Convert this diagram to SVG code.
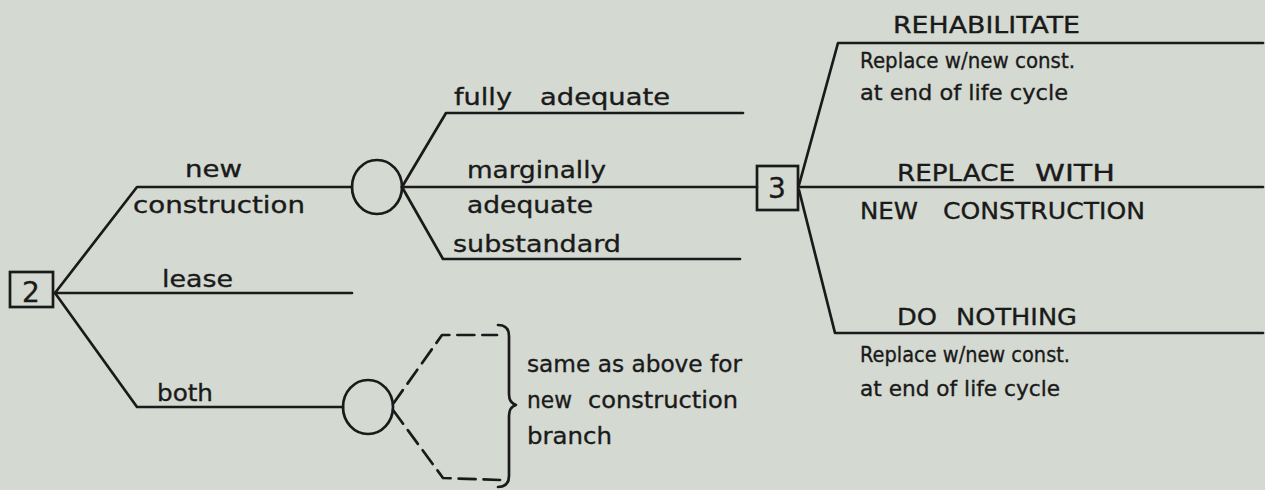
<svg xmlns="http://www.w3.org/2000/svg" width="1265" height="490" viewBox="0 0 1265 490">
  <style>
    .bg { fill: #d4d9d1; }
    .ln { fill: none; stroke: #1a1a1a; stroke-width: 2.7; stroke-linejoin: round; stroke-linecap: round; }
    .dash { stroke-dasharray: 17 8; }
    .box { fill: none; stroke: #1a1a1a; stroke-width: 2.7; }
    .chance { fill: none; stroke: #1a1a1a; stroke-width: 2.7; }
    text { font-family: "DejaVu Sans", "Liberation Sans", sans-serif; fill: #1a1a1a; stroke: #1a1a1a; stroke-width: 0.35; }
    .lc { font-size: 23px; }
    .uc { font-size: 23px; }
    .note { font-size: 22px; }
    .num { font-size: 28px; text-anchor: middle; }
  </style>
  <rect class="bg" x="0" y="0" width="1265" height="490"/>

  <!-- branches -->
  <g id="connectors">
    <!-- from decision 2 -->
    <polyline class="ln" points="55,293 137,187 352,187"/>
    <line class="ln" x1="55" y1="293" x2="352" y2="293"/>
    <polyline class="ln" points="55,293 137,407 343,407"/>
    <!-- from chance node (new construction) -->
    <polyline class="ln" points="402,187 446,113 743,113"/>
    <line class="ln" x1="402" y1="187" x2="757" y2="187"/>
    <polyline class="ln" points="402,187 443,259 740,259"/>
    <!-- from decision 3 -->
    <polyline class="ln" points="799,185 838,43 1263,43"/>
    <line class="ln" x1="799" y1="187" x2="1263" y2="187"/>
    <polyline class="ln" points="799,190 835,333 1263,333"/>
    <!-- dashed branches from chance node (both) -->
    <polyline class="ln dash" points="393,404 442,335 497,335"/>
    <polyline class="ln dash" points="393,410 443,478 500,480"/>
    <!-- brace -->
    <path class="ln" d="M 498,325 Q 509,325 509,336 L 509,394 Q 509,403 516,405 Q 509,407 509,416 L 509,476 Q 509,487 498,487"/>
  </g>

  <g id="node-2">
    <rect class="box" x="10" y="272" width="43" height="35"/>
    <text class="num" x="31" y="302">2</text>
  </g>

  <g id="node-chance-new">
    <ellipse class="chance" cx="377" cy="187" rx="25" ry="27"/>
  </g>

  <g id="node-chance-both">
    <ellipse class="chance" cx="368" cy="407" rx="25" ry="27"/>
  </g>

  <g id="node-3">
    <rect class="box" x="757" y="166" width="41" height="44"/>
    <text class="num" x="777" y="198">3</text>
  </g>

  <g id="labels-left">
    <text class="lc" x="185" y="177" textLength="57" lengthAdjust="spacingAndGlyphs">new</text>
    <text class="lc" x="133" y="213" textLength="172" lengthAdjust="spacingAndGlyphs">construction</text>
    <text class="lc" x="162" y="287" textLength="71" lengthAdjust="spacingAndGlyphs">lease</text>
    <text class="lc" x="157" y="401" textLength="56" lengthAdjust="spacingAndGlyphs">both</text>
  </g>

  <g id="labels-outcomes">
    <text class="lc" y="105"><tspan x="454" textLength="58" lengthAdjust="spacingAndGlyphs">fully</tspan> <tspan x="540" textLength="130" lengthAdjust="spacingAndGlyphs">adequate</tspan></text>
    <text class="lc" x="467" y="178" textLength="139" lengthAdjust="spacingAndGlyphs">marginally</text>
    <text class="lc" x="467" y="213" textLength="126" lengthAdjust="spacingAndGlyphs">adequate</text>
    <text class="lc" x="453" y="252" textLength="168" lengthAdjust="spacingAndGlyphs">substandard</text>
    <text class="lc" x="527" y="372" textLength="215" lengthAdjust="spacingAndGlyphs">same as above for</text>
    <text class="lc" y="408"><tspan x="527" textLength="45" lengthAdjust="spacingAndGlyphs">new</tspan> <tspan x="588" textLength="150" lengthAdjust="spacingAndGlyphs">construction</tspan></text>
    <text class="lc" x="527" y="444" textLength="85" lengthAdjust="spacingAndGlyphs">branch</text>
  </g>

  <g id="labels-alternatives">
    <text class="uc" x="893" y="33" textLength="187" lengthAdjust="spacingAndGlyphs">REHABILITATE</text>
    <text class="note" x="860" y="68" textLength="215" lengthAdjust="spacingAndGlyphs">Replace w/new const.</text>
    <text class="note" x="860" y="100" textLength="208" lengthAdjust="spacingAndGlyphs">at end of life cycle</text>
    <text class="uc" y="181"><tspan x="897" textLength="118" lengthAdjust="spacingAndGlyphs">REPLACE</tspan> <tspan x="1035" textLength="80" lengthAdjust="spacingAndGlyphs">WITH</tspan></text>
    <text class="uc" y="219"><tspan x="860" textLength="58" lengthAdjust="spacingAndGlyphs">NEW</tspan> <tspan x="943" textLength="202" lengthAdjust="spacingAndGlyphs">CONSTRUCTION</tspan></text>
    <text class="uc" y="325"><tspan x="897" textLength="40" lengthAdjust="spacingAndGlyphs">DO</tspan> <tspan x="956" textLength="121" lengthAdjust="spacingAndGlyphs">NOTHING</tspan></text>
    <text class="note" x="860" y="362" textLength="210" lengthAdjust="spacingAndGlyphs">Replace w/new const.</text>
    <text class="note" x="860" y="396" textLength="200" lengthAdjust="spacingAndGlyphs">at end of life cycle</text>
  </g>
</svg>
